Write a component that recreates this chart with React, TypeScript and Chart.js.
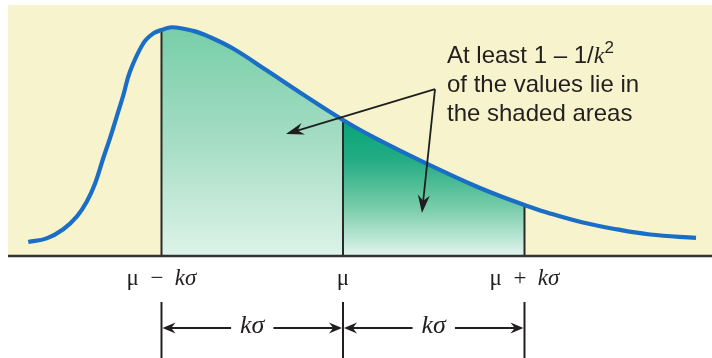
import React, { useEffect, useRef } from "react";
import { Chart, registerables } from "chart.js";

Chart.register(...registerables);

// ---- data (x in units of kσ from μ, y = relative density) ----
const curveX = [
  -1.734, -1.633, -1.541, -1.467, -1.412, -1.366, -1.321, -1.284, -1.247, -1.21,
  -1.174, -1.1, -1.045, -1.0, -0.942, -0.826, -0.733, -0.606, -0.419,
  -0.237, 0.0, 0.165, 0.353, 0.534, 0.716, 0.865, 1.0, 1.14, 1.322, 1.51, 1.691, 1.945,
];
const curveY = [
  0.061, 0.077, 0.117, 0.172, 0.237, 0.317, 0.427, 0.514, 0.608, 0.703,
  0.805, 0.929, 0.972, 0.987, 0.999, 0.983, 0.956, 0.906, 0.81,
  0.714, 0.594, 0.52, 0.445, 0.376, 0.31, 0.262, 0.223, 0.186, 0.146, 0.116, 0.094, 0.079,
];
const markX = [-1, 0, 1];
const tickLabels = ["μ\u2002−\u2002kσ", "μ", "μ\u2002+\u2002kσ"];
const spanLabel = "kσ";
const noteLines = ["At least 1 – 1/k²", "of the values lie in", "the shaded areas"];
const noteAnchor = { x: 0.573, y: 0.843 };
const arrowVertex = { x: 0.507, y: 0.729 };
const arrowTips = [
  { x: -0.314, y: 0.533 },
  { x: 0.435, y: 0.188 },
];
const xRange = [-1.8457, 2.0331];
const yRange = [0, 1.0961];

// ---- helpers ----
function yAt(x: number): number {
  const i = curveX.indexOf(x);
  return i >= 0 ? curveY[i] : 0;
}
function segment(x0: number, x1: number) {
  const pts: { x: number; y: number }[] = [];
  curveX.forEach((x, i) => {
    if (x >= x0 - 1e-9 && x <= x1 + 1e-9) pts.push({ x, y: curveY[i] });
  });
  return pts;
}

type Run = { text: string; font: string; dy: number };

function parseRich(s: string, size: number, sansFamily: string, serifFamily: string, allSerif: boolean): Run[] {
  const runs: Run[] = [];
  for (const ch of s) {
    let font: string;
    let text = ch;
    let dy = 0;
    if (ch === "k" || ch === "σ") {
      font = `italic ${size}px ${serifFamily}`;
    } else if (ch === "²") {
      text = "2";
      font = `${Math.round(size * 0.72)}px ${sansFamily}`;
      dy = -size * 0.42;
    } else {
      font = allSerif ? `${size}px ${serifFamily}` : `${size}px ${sansFamily}`;
    }
    const last = runs[runs.length - 1];
    if (last && last.font === font && last.dy === dy) last.text += text;
    else runs.push({ text, font, dy });
  }
  return runs;
}
function richWidth(ctx: CanvasRenderingContext2D, runs: Run[]) {
  let w = 0;
  runs.forEach((r) => {
    ctx.font = r.font;
    w += ctx.measureText(r.text).width;
  });
  return w;
}
function drawRich(ctx: CanvasRenderingContext2D, runs: Run[], x: number, y: number, align: "left" | "center") {
  let cx = align === "center" ? x - richWidth(ctx, runs) / 2 : x;
  ctx.textAlign = "left";
  ctx.textBaseline = "alphabetic";
  runs.forEach((r) => {
    ctx.font = r.font;
    ctx.fillText(r.text, cx, y + r.dy);
    cx += ctx.measureText(r.text).width;
  });
}
function arrowHead(ctx: CanvasRenderingContext2D, fx: number, fy: number, tx: number, ty: number, len: number, hw: number) {
  const a = Math.atan2(ty - fy, tx - fx);
  ctx.save();
  ctx.translate(tx, ty);
  ctx.rotate(a);
  ctx.beginPath();
  ctx.moveTo(0, 0);
  ctx.lineTo(-len, -hw);
  ctx.lineTo(-len * 0.68, 0);
  ctx.lineTo(-len, hw);
  ctx.closePath();
  ctx.fill();
  ctx.restore();
}

const SANS = '"Liberation Sans", Arial, sans-serif';
const SERIF = '"Liberation Serif", "Times New Roman", serif';

const decorPlugin = {
  id: "decor",
  beforeDatasetsDraw(chart: any) {
    const { ctx, chartArea } = chart;
    ctx.save();
    ctx.fillStyle = "#f7f3cc";
    ctx.fillRect(chartArea.left, chartArea.top, chartArea.right - chartArea.left, chartArea.bottom - chartArea.top);
    ctx.restore();
  },
  afterDatasetsDraw(chart: any) {
    const { ctx, chartArea } = chart;
    const xs = chart.scales.x;
    const ys = chart.scales.y;
    const base = ys.getPixelForValue(0);
    ctx.save();
    // baseline
    ctx.strokeStyle = "#333333";
    ctx.lineWidth = 2.5;
    ctx.beginPath();
    ctx.moveTo(chartArea.left, base);
    ctx.lineTo(chartArea.right, base);
    ctx.stroke();

    // tick labels
    ctx.fillStyle = "#231f20";
    markX.forEach((mx, i) => {
      const px = xs.getPixelForValue(mx);
      drawRich(ctx, parseRich(tickLabels[i], 23, SANS, SERIF, true), px, base + 29, "center");
    });

    // dimension lines
    ctx.strokeStyle = "#231f20";
    ctx.lineWidth = 2;
    const pxs = markX.map((mx) => xs.getPixelForValue(mx));
    pxs.forEach((px) => {
      ctx.beginPath();
      ctx.moveTo(px, base + 46);
      ctx.lineTo(px, chart.height);
      ctx.stroke();
    });
    const ay = base + 72;
    for (let i = 0; i < pxs.length - 1; i++) {
      const x1 = pxs[i];
      const x2 = pxs[i + 1];
      const mid = (x1 + x2) / 2;
      const runs = parseRich(spanLabel, 26, SANS, SERIF, true);
      const w = richWidth(ctx, runs);
      const gap = 9;
      ctx.lineWidth = 1.8;
      ctx.beginPath();
      ctx.moveTo(x1 + 6, ay);
      ctx.lineTo(mid - w / 2 - gap, ay);
      ctx.moveTo(mid + w / 2 + gap, ay);
      ctx.lineTo(x2 - 6, ay);
      ctx.stroke();
      ctx.fillStyle = "#231f20";
      arrowHead(ctx, mid, ay, x1 + 1, ay, 13, 5.5);
      arrowHead(ctx, mid, ay, x2 - 1, ay, 13, 5.5);
      drawRich(ctx, runs, mid, ay + 5, "center");
    }

    // annotation arrows
    const vx = xs.getPixelForValue(arrowVertex.x);
    const vy = ys.getPixelForValue(arrowVertex.y);
    ctx.strokeStyle = "#1e1e1e";
    ctx.fillStyle = "#1e1e1e";
    ctx.lineWidth = 1.8;
    arrowTips.forEach((t) => {
      const tx = xs.getPixelForValue(t.x);
      const ty = ys.getPixelForValue(t.y);
      const a = Math.atan2(ty - vy, tx - vx);
      ctx.beginPath();
      ctx.moveTo(vx, vy);
      ctx.lineTo(tx - Math.cos(a) * 10, ty - Math.sin(a) * 10);
      ctx.stroke();
      arrowHead(ctx, vx, vy, tx, ty, 18, 6);
    });

    // annotation text
    const nx = xs.getPixelForValue(noteAnchor.x);
    const ny = ys.getPixelForValue(noteAnchor.y);
    ctx.fillStyle = "#231f20";
    noteLines.forEach((line, i) => {
      drawRich(ctx, parseRich(line, 24, SANS, SERIF, false), nx, ny + i * 29, "left");
    });
    ctx.restore();
  },
};

function gradientFill(topValue: number, stops: [number, string][]) {
  return (c: any) => {
    const chart = c.chart;
    const area = chart.chartArea;
    if (!area) return "rgba(0,0,0,0)";
    const ys = chart.scales.y;
    const g = chart.ctx.createLinearGradient(0, ys.getPixelForValue(topValue), 0, ys.getPixelForValue(0));
    stops.forEach(([o, col]) => g.addColorStop(o, col));
    return g;
  };
}

export default function App() {
  const ref = useRef<HTMLCanvasElement | null>(null);
  useEffect(() => {
    if (!ref.current) return;
    const lightTop = Math.max(...segment(-1, 0).map((p) => p.y));
    const darkTop = yAt(0);
    const datasets: any[] = [
      {
        label: "curve",
        data: curveX.map((x, i) => ({ x, y: curveY[i] })),
        borderColor: "#1b6ec6",
        borderWidth: 4.2,
        pointRadius: 0,
        fill: false,
        tension: 0.4,
        borderCapStyle: "butt",
        order: 0,
      },
      ...markX.map((mx) => ({
        label: "mark",
        data: [
          { x: mx, y: 0 },
          { x: mx, y: yAt(mx) },
        ],
        borderColor: "#2a2a2a",
        borderWidth: 2,
        pointRadius: 0,
        fill: false,
        order: 1,
      })),
      {
        label: "within",
        data: segment(-1, 0),
        borderWidth: 0,
        borderColor: "rgba(0,0,0,0)",
        pointRadius: 0,
        fill: "origin",
        tension: 0.4,
        backgroundColor: gradientFill(lightTop, [
          [0, "#77cea8"],
          [0.5, "#a5ddc4"],
          [1, "#ddf3e9"],
        ]),
        order: 2,
      },
      {
        label: "above",
        data: segment(0, 1),
        borderWidth: 0,
        borderColor: "rgba(0,0,0,0)",
        pointRadius: 0,
        fill: "origin",
        tension: 0.4,
        backgroundColor: gradientFill(darkTop, [
          [0, "#08a477"],
          [0.3, "#24ad84"],
          [0.65, "#7acdab"],
          [1, "#e2f5ee"],
        ]),
        order: 2,
      },
    ];
    const chart = new Chart(ref.current, {
      type: "line",
      data: { datasets },
      options: {
        animation: false,
        responsive: true,
        maintainAspectRatio: false,
        layout: { padding: { left: 8, top: 5, right: 0, bottom: 102 } },
        plugins: { legend: { display: false }, tooltip: { enabled: false } },
        events: [],
        scales: {
          x: { type: "linear", min: xRange[0], max: xRange[1], display: false },
          y: { type: "linear", min: yRange[0], max: yRange[1], display: false },
        },
      },
      plugins: [decorPlugin],
    });
    return () => chart.destroy();
  }, []);
  return (
    <div style={{ position: "absolute", left: 0, top: 0, width: 712, height: 358, background: "#ffffff" }}>
      <canvas ref={ref} />
    </div>
  );
}
